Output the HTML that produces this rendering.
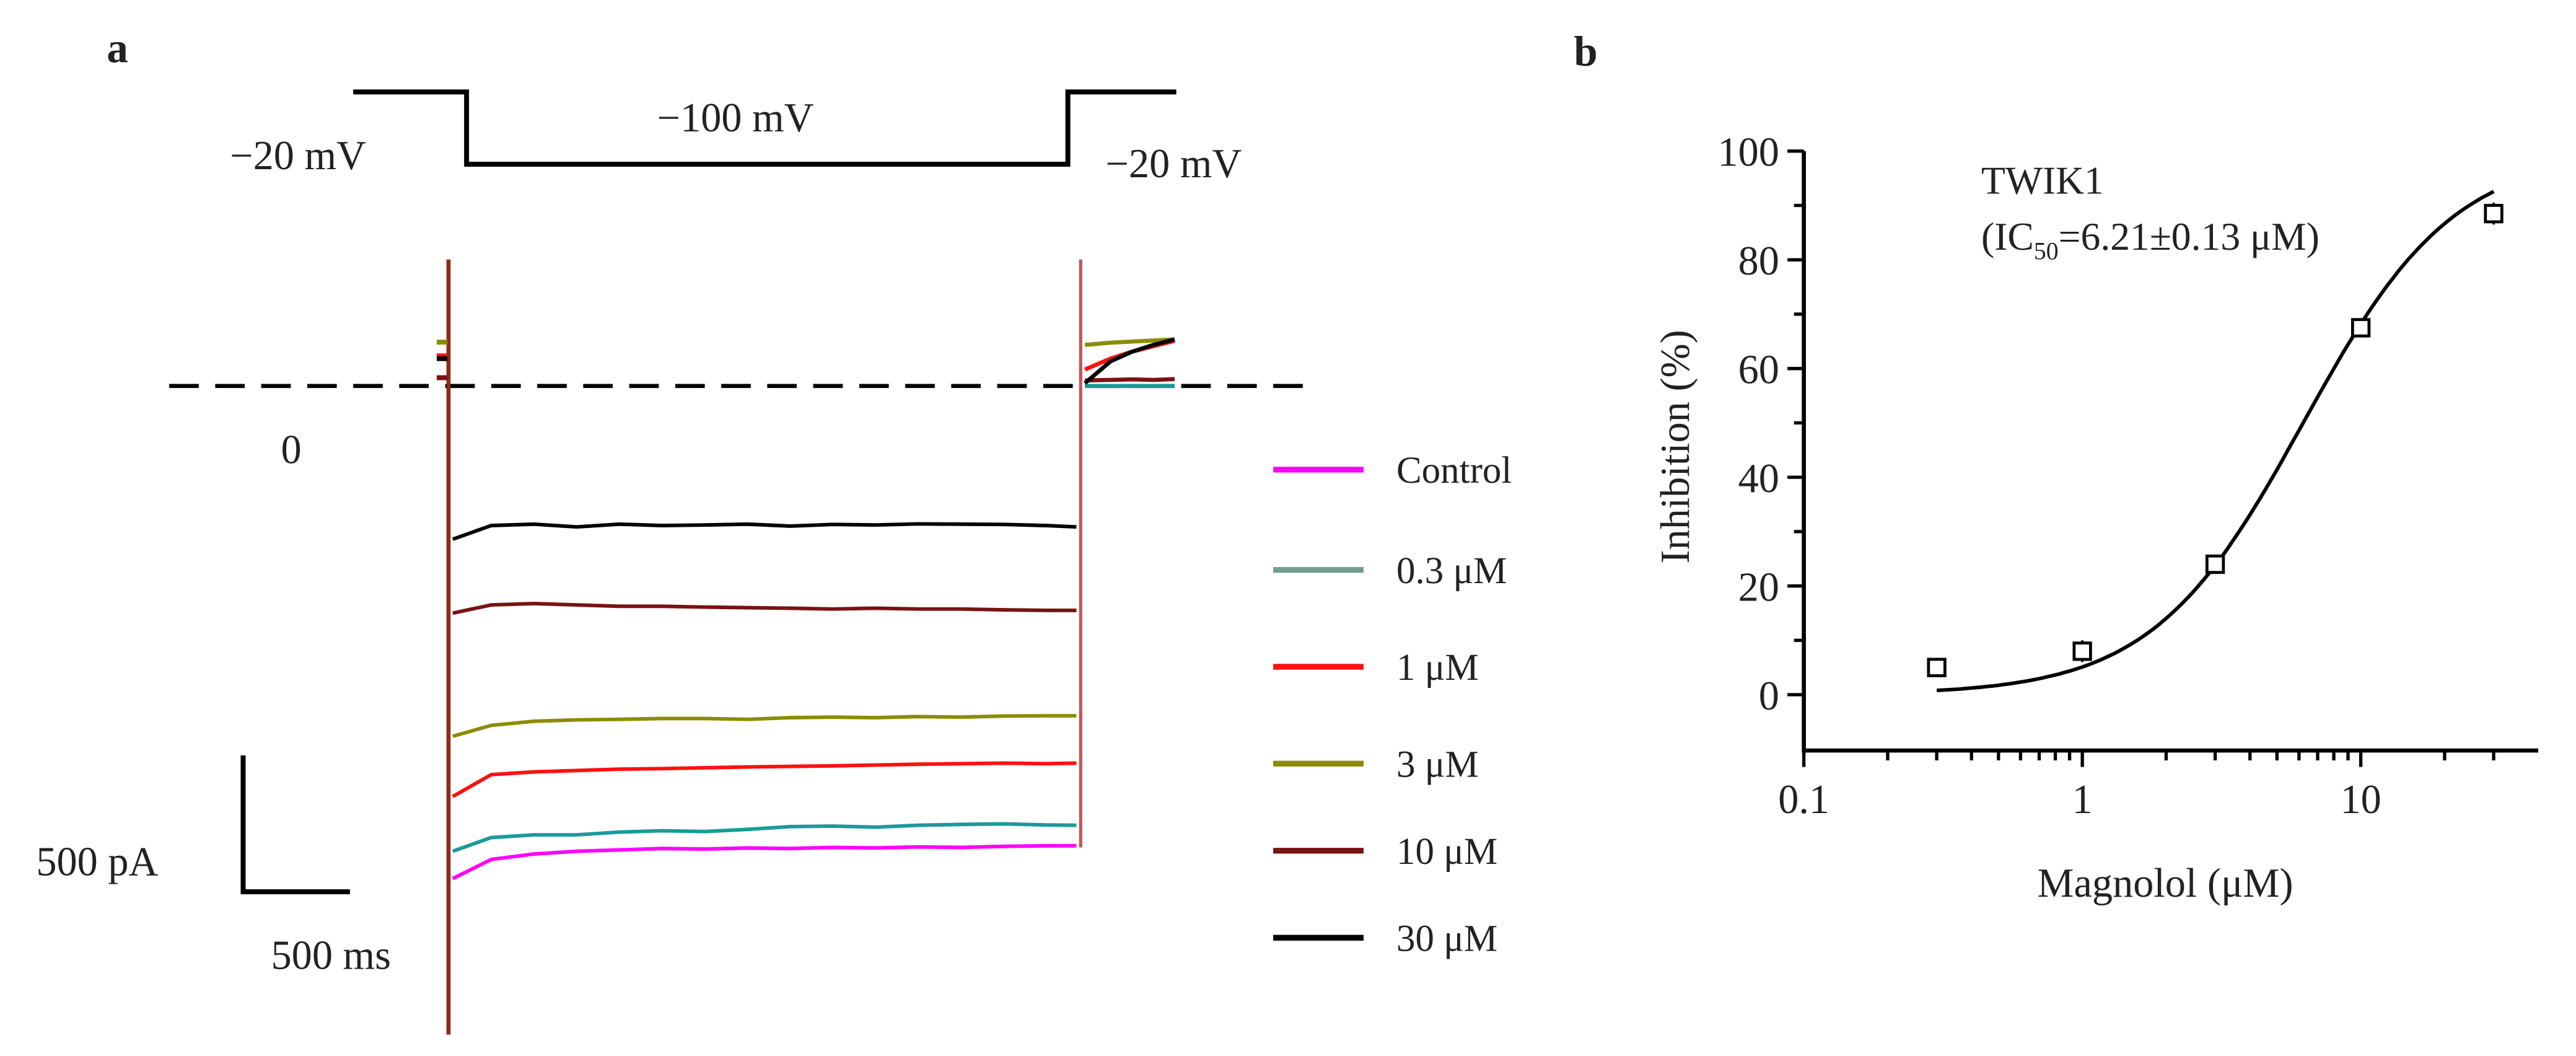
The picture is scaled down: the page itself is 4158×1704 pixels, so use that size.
<!DOCTYPE html>
<html><head><meta charset="utf-8"><style>
html,body{margin:0;padding:0;background:#fff}
svg{display:block}
text{font-family:"Liberation Serif",serif;fill:#222}
</style></head><body>
<svg id="fig" width="4158" height="1704" viewBox="0 0 1568 643" preserveAspectRatio="none">
<g id="pa">
<text x="65" y="38" font-size="26" font-weight="bold">a</text>
<polyline points="215,56 284,56 284,100 650,100 650,56 716,56" fill="none" stroke="#000" stroke-width="3"/>
<text x="140" y="103" font-size="25">−20 mV</text>
<text x="400" y="80" font-size="25">−100 mV</text>
<text x="673" y="108" font-size="25">−20 mV</text>
<line x1="103" y1="235" x2="798" y2="235" stroke="#000" stroke-width="2.5" stroke-dasharray="18,10"/>
<text x="171" y="282" font-size="25">0</text>
<g id="traces"></g>
<polyline points="148,460 148,543 213,543" fill="none" stroke="#000" stroke-width="3"/>
<text x="22" y="533" font-size="25">500 pA</text>
<text x="165" y="590" font-size="25">500 ms</text>
<g id="legend"></g>
</g>
<g id="pb">
<text x="958" y="40" font-size="26" font-weight="bold">b</text>
<g id="axes"></g>
<text x="1206" y="118" font-size="24">TWIK1</text>
<text x="1206" y="152" font-size="24">(IC<tspan font-size="15" dy="6">50</tspan><tspan dy="-6">=6.21±0.13 μM)</tspan></text>
<text transform="translate(1028,272) rotate(-90)" text-anchor="middle" font-size="25">Inhibition (%)</text>
<text x="1318" y="546" text-anchor="middle" font-size="25">Magnolol (μM)</text>
</g>
</svg>
<script>
// Panel a trace data (pA), sampled every 200 ms during the -100 mV step
const stepTimes = [20,200,400,600,800,1000,1200,1400,1600,1800,2000,2200,2400,2600,2800,2940];
const traceNames = ['Control','0.3 μM','1 μM','3 μM','10 μM','30 μM'];
const traceColors = ['#ff00ff','#1a9a9a','#ff1010','#8c8c00','#7a1212','#000000'];
const legendColors = ['#ff00ff','#6f9f8c','#ff1010','#8c8c00','#7a1212','#000000'];
const ctrl = [-1800,-1730,-1710,-1700,-1695,-1690,-1692,-1688,-1690,-1686,-1688,-1684,-1686,-1682,-1680,-1680];
const c03  = [-1700,-1650,-1640,-1640,-1630,-1625,-1628,-1620,-1610,-1608,-1612,-1605,-1602,-1600,-1604,-1605];
const c1   = [-1500,-1420,-1410,-1405,-1400,-1398,-1395,-1392,-1390,-1388,-1385,-1382,-1380,-1378,-1380,-1378];
const c3   = [-1280,-1240,-1225,-1220,-1218,-1215,-1215,-1218,-1212,-1210,-1212,-1208,-1210,-1206,-1205,-1205];
const c10  = [-830,-800,-795,-800,-805,-805,-808,-810,-812,-815,-812,-815,-815,-818,-820,-820];
const c30  = [-560,-510,-505,-515,-505,-510,-508,-505,-512,-506,-508,-504,-505,-506,-510,-515];
const stepSeries = [ctrl,c03,c1,c3,c10,c30];
const preValues = [0,0,110,160,30,100];
const postTimes = [2980,3100,3200,3300,3400];
const postSeries = [[0,0,0,0,0],[0,0,0,0,0],[60,100,125,145,165],[150,158,162,166,170],[20,22,24,22,25],[10,90,125,150,170]];
const ns='http://www.w3.org/2000/svg';
const tx = t => 273 + t*0.13;
const iy = v => 235 - v/6;
const tr = document.getElementById('traces');
let s = document.createElementNS(ns,'line');
s.setAttribute('x1',273);s.setAttribute('x2',273);s.setAttribute('y1',158);s.setAttribute('y2',630);
s.setAttribute('stroke','#8b2a1a');s.setAttribute('stroke-width','2.5');


tr.appendChild(s);
s = document.createElementNS(ns,'line');
s.setAttribute('x1',tx(2960));s.setAttribute('x2',tx(2960));s.setAttribute('y1',158);s.setAttribute('y2',516);
s.setAttribute('stroke','#c05a5a');s.setAttribute('stroke-width','2');


tr.appendChild(s);
for (let i=0;i<6;i++){
  let pts = [];
  stepTimes.forEach((t,k)=>pts.push(tx(t)+','+iy(stepSeries[i][k])));
  const p = document.createElementNS(ns,'polyline');
  p.setAttribute('points',pts.join(' '));
  p.setAttribute('fill','none');p.setAttribute('stroke',traceColors[i]);p.setAttribute('stroke-width','2.2');
  
  
  tr.appendChild(p);
  if (preValues[i]!==0){
    const q = document.createElementNS(ns,'line');
    q.setAttribute('x1',tx(-55));q.setAttribute('x2',tx(-5));q.setAttribute('y1',iy(preValues[i]));q.setAttribute('y2',iy(preValues[i]));
    q.setAttribute('stroke',traceColors[i]);q.setAttribute('stroke-width','3');
    
    
    tr.appendChild(q);
  }
  let pp = [];
  postTimes.forEach((t,k)=>pp.push(tx(t)+','+iy(postSeries[i][k])));
  const r = document.createElementNS(ns,'polyline');
  r.setAttribute('points',pp.join(' '));
  r.setAttribute('fill','none');r.setAttribute('stroke',traceColors[i]);r.setAttribute('stroke-width','2.5');
  
  
  tr.appendChild(r);
}
const lg = document.getElementById('legend');
const legY = [286,347,406,465,518,571];
for (let i=0;i<6;i++){
  const l = document.createElementNS(ns,'line');
  l.setAttribute('x1',775);l.setAttribute('x2',830);l.setAttribute('y1',legY[i]);l.setAttribute('y2',legY[i]);
  l.setAttribute('stroke',legendColors[i]);l.setAttribute('stroke-width','3.5');
  
  
  lg.appendChild(l);
  const t = document.createElementNS(ns,'text');
  t.setAttribute('x',850);t.setAttribute('y',legY[i]+8);t.setAttribute('font-size','23');
  t.textContent = traceNames[i];
  
  
  lg.appendChild(t);
}
// Panel b data
const conc = [0.3,1,3,10,30];
const inhib = [5,8,24,67.5,88.5];
const errs = [1,2,1,1,2];
const ic50 = 6.21, hill = 1.6;
const yTicks = [0,20,40,60,80,100];
const xTicks = [0.1,1,10];
const xTickLabels = ['0.1','1','10'];
const ax = document.getElementById('axes');
const bx = c => 1098 + (Math.log10(c)+1)*169.5;
const by = v => 423 - v*3.31;
function add(tag, attrs){
  const e = document.createElementNS(ns,tag);
  for (const k in attrs) e.setAttribute(k, attrs[k]);
  ax.appendChild(e); return e;
}
let e;
e = add('polyline',{points:'1098,92 1098,457 1545,457',fill:'none',stroke:'#000','stroke-width':2.5});


for (let v=0; v<=100; v+=10){
  e = add('line',{x1:1098,x2:v%20===0?1088:1092,y1:by(v),y2:by(v),stroke:'#000','stroke-width':2});
  
  
}
yTicks.forEach(v=>{
  e = add('text',{x:1083,y:by(v)+9,'text-anchor':'end','font-size':25});
  e.textContent = v;
  
  
});
for (let d=0.1; d<40; d*=10){
  for (let m=1;m<10;m++){
    const c=d*m; if (c>32) break;
    e = add('line',{x1:bx(c),x2:bx(c),y1:457,y2:m===1?467:463,stroke:'#000','stroke-width':2});
    
    
  }
}
xTicks.forEach((c,i)=>{
  e = add('text',{x:bx(c),y:495,'text-anchor':'middle','font-size':25});
  e.textContent = xTickLabels[i];
  
  
});
let cp=[];
for (let lc=Math.log10(0.3); lc<=Math.log10(30)+1e-9; lc+=0.02){
  const c=Math.pow(10,lc); const v=100/(1+Math.pow(ic50/c,hill));
  cp.push(bx(c).toFixed(1)+','+by(v).toFixed(1));
}
e = add('polyline',{points:cp.join(' '),fill:'none',stroke:'#000','stroke-width':2.2});


conc.forEach((c,i)=>{
  e = add('line',{x1:bx(c),x2:bx(c),y1:by(inhib[i]+errs[i]),y2:by(inhib[i]-errs[i]),stroke:'#000','stroke-width':1.5});
  
  
  e = add('rect',{x:bx(c)-5,y:by(inhib[i])-5,width:10,height:10,fill:'#fff',stroke:'#000','stroke-width':1.8});
  
  
});
</script>
</body></html>
